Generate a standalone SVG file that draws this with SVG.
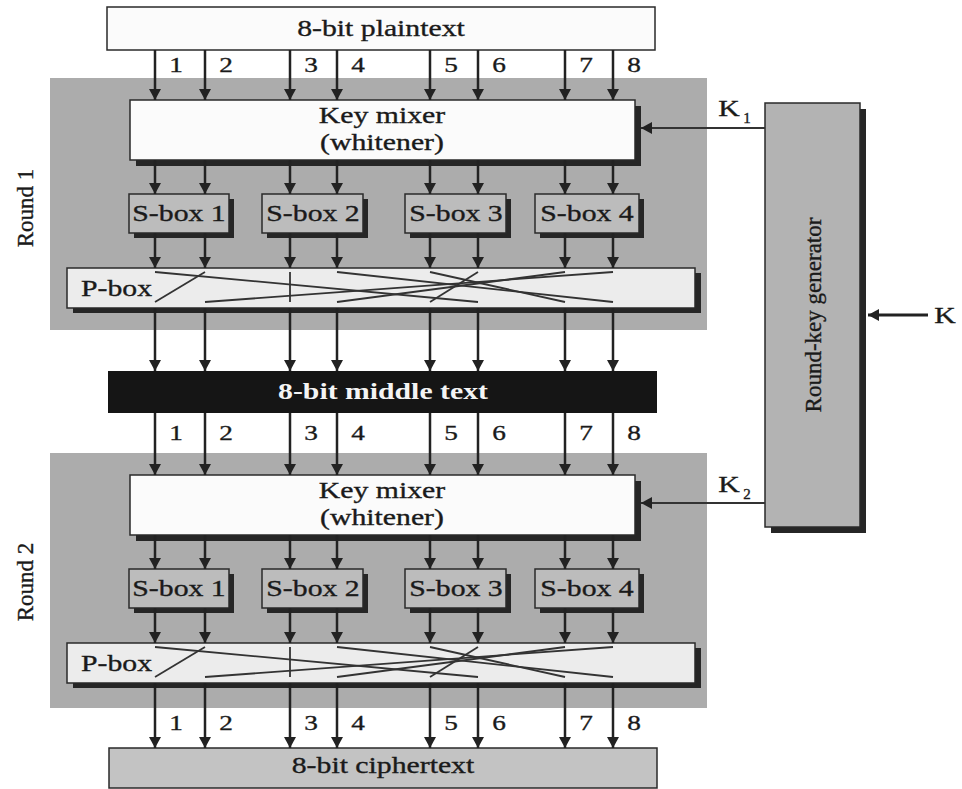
<svg xmlns="http://www.w3.org/2000/svg" width="962" height="789" viewBox="0 0 962 789">
<style>
.bg{fill:#ffffff}
.round{fill:#acacac}
.box{stroke:#2a2a2a;stroke-width:1.5}
.shadow{fill:#262626}
.white{fill:#fbfbfb}
.sbox{fill:#bcbcbc}
.pbox{fill:#ececec}
.gen{fill:#b3b3b3}
.cipher{fill:#c3c3c3}
.mid{fill:#151515}
.t{font-family:"Liberation Serif","Times New Roman",serif;fill:#1a1a1a;stroke:#1a1a1a;stroke-width:0.35}
.lbl{font-size:24px;text-anchor:middle}
.num{font-size:22px;text-anchor:middle}
.sub{font-size:15px;text-anchor:middle}
.rot{font-size:23px;text-anchor:middle}
.midt{font-size:24px;font-weight:bold;text-anchor:middle;fill:#f4f4f4;stroke:none}
.wire line{stroke:#222;stroke-width:2.5;fill:none;marker-end:url(#ah)}
.kwire{stroke:#333;stroke-width:2;fill:none;marker-end:url(#ah)}
.perm{stroke:#333;stroke-width:1.8;fill:none}
</style>
<defs>
<marker id="ah" markerUnits="userSpaceOnUse" markerWidth="14" markerHeight="14" refX="11" refY="6" orient="auto">
<path d="M0,0 L11,6 L0,12 z" fill="#222"/>
</marker>
</defs>
<rect class="bg" x="0" y="0" width="962" height="789"/>

<g id="round1-region">
<rect class="round" x="50" y="78" width="657" height="252"/>
<text class="t rot" transform="translate(33 208) rotate(-90)">Round 1</text>
</g>
<g id="round2-region">
<rect class="round" x="50" y="453" width="657" height="255"/>
<text class="t rot" transform="translate(33 582) rotate(-90)">Round 2</text>
</g>

<g id="plaintext">
<rect class="box white" x="107" y="7" width="548" height="43"/>
<text class="t lbl" transform="translate(381 36) scale(1.24 1)">8-bit plaintext</text>
</g>

<g id="keymixer1">
<rect class="shadow" x="136" y="106" width="505" height="60"/>
<rect class="box white" x="130" y="100" width="505" height="60"/>
<text class="t lbl" transform="translate(382 123) scale(1.24 1)">Key mixer</text>
<text class="t lbl" transform="translate(382 150) scale(1.24 1)">(whitener)</text>
</g>

<g id="sbox1-1">
<rect class="shadow" x="134" y="199" width="100" height="39"/>
<rect class="box sbox" x="129" y="194" width="100" height="39"/>
<text class="t lbl" transform="translate(179 221) scale(1.24 1)">S-box 1</text>
</g>
<g id="sbox1-2">
<rect class="shadow" x="267" y="199" width="101" height="39"/>
<rect class="box sbox" x="262" y="194" width="101" height="39"/>
<text class="t lbl" transform="translate(313 221) scale(1.24 1)">S-box 2</text>
</g>
<g id="sbox1-3">
<rect class="shadow" x="410" y="199" width="101" height="39"/>
<rect class="box sbox" x="405" y="194" width="101" height="39"/>
<text class="t lbl" transform="translate(456 221) scale(1.24 1)">S-box 3</text>
</g>
<g id="sbox1-4">
<rect class="shadow" x="540" y="199" width="104" height="39"/>
<rect class="box sbox" x="535" y="194" width="104" height="39"/>
<text class="t lbl" transform="translate(587 221) scale(1.24 1)">S-box 4</text>
</g>

<g id="pbox1">
<rect class="shadow" x="73" y="273" width="628" height="40"/>
<rect class="box pbox" x="67" y="268" width="628" height="40"/>
<text class="t lbl" style="text-anchor:start" transform="translate(81 296) scale(1.24 1)">P-box</text>
<g class="perm">
<line x1="155" y1="272" x2="478" y2="302"/>
<line x1="205" y1="272" x2="155" y2="302"/>
<line x1="290" y1="272" x2="290" y2="302"/>
<line x1="337" y1="272" x2="613" y2="302"/>
<line x1="430" y1="272" x2="565" y2="302"/>
<line x1="478" y1="272" x2="430" y2="302"/>
<line x1="565" y1="272" x2="337" y2="302"/>
<line x1="613" y1="272" x2="205" y2="302"/>
</g>
</g>

<g id="middletext">
<rect class="mid" x="108" y="371" width="549" height="42"/>
<text class="t midt" transform="translate(383 399) scale(1.24 1)">8-bit middle text</text>
</g>

<g id="keymixer2">
<rect class="shadow" x="136" y="481" width="505" height="60"/>
<rect class="box white" x="130" y="475" width="505" height="60"/>
<text class="t lbl" transform="translate(382 498) scale(1.24 1)">Key mixer</text>
<text class="t lbl" transform="translate(382 525) scale(1.24 1)">(whitener)</text>
</g>

<g id="sbox2-1">
<rect class="shadow" x="134" y="574" width="100" height="39"/>
<rect class="box sbox" x="129" y="569" width="100" height="39"/>
<text class="t lbl" transform="translate(179 596) scale(1.24 1)">S-box 1</text>
</g>
<g id="sbox2-2">
<rect class="shadow" x="267" y="574" width="101" height="39"/>
<rect class="box sbox" x="262" y="569" width="101" height="39"/>
<text class="t lbl" transform="translate(313 596) scale(1.24 1)">S-box 2</text>
</g>
<g id="sbox2-3">
<rect class="shadow" x="410" y="574" width="101" height="39"/>
<rect class="box sbox" x="405" y="569" width="101" height="39"/>
<text class="t lbl" transform="translate(456 596) scale(1.24 1)">S-box 3</text>
</g>
<g id="sbox2-4">
<rect class="shadow" x="540" y="574" width="104" height="39"/>
<rect class="box sbox" x="535" y="569" width="104" height="39"/>
<text class="t lbl" transform="translate(587 596) scale(1.24 1)">S-box 4</text>
</g>

<g id="pbox2">
<rect class="shadow" x="73" y="648" width="628" height="40"/>
<rect class="box pbox" x="67" y="643" width="628" height="40"/>
<text class="t lbl" style="text-anchor:start" transform="translate(81 671) scale(1.24 1)">P-box</text>
<g class="perm">
<line x1="155" y1="647" x2="478" y2="677"/>
<line x1="205" y1="647" x2="155" y2="677"/>
<line x1="290" y1="647" x2="290" y2="677"/>
<line x1="337" y1="647" x2="613" y2="677"/>
<line x1="430" y1="647" x2="565" y2="677"/>
<line x1="478" y1="647" x2="430" y2="677"/>
<line x1="565" y1="647" x2="337" y2="677"/>
<line x1="613" y1="647" x2="205" y2="677"/>
</g>
</g>

<g id="ciphertext">
<rect class="box cipher" x="109" y="748" width="548" height="40"/>
<text class="t lbl" transform="translate(383 773) scale(1.24 1)">8-bit ciphertext</text>
</g>

<g id="roundkeygen">
<rect class="shadow" x="771" y="109" width="95" height="424"/>
<rect class="box gen" x="765" y="103" width="95" height="424"/>
<text class="t rot" transform="translate(821 315) rotate(-90)">Round-key generator</text>
</g>

<g id="connectors">
<g class="wire">
<line x1="155" y1="50" x2="155" y2="100"/><line x1="205" y1="50" x2="205" y2="100"/><line x1="290" y1="50" x2="290" y2="100"/><line x1="337" y1="50" x2="337" y2="100"/><line x1="430" y1="50" x2="430" y2="100"/><line x1="478" y1="50" x2="478" y2="100"/><line x1="565" y1="50" x2="565" y2="100"/><line x1="613" y1="50" x2="613" y2="100"/>
<line x1="155" y1="160" x2="155" y2="194"/><line x1="205" y1="160" x2="205" y2="194"/><line x1="290" y1="160" x2="290" y2="194"/><line x1="337" y1="160" x2="337" y2="194"/><line x1="430" y1="160" x2="430" y2="194"/><line x1="478" y1="160" x2="478" y2="194"/><line x1="565" y1="160" x2="565" y2="194"/><line x1="613" y1="160" x2="613" y2="194"/>
<line x1="155" y1="233" x2="155" y2="268"/><line x1="205" y1="233" x2="205" y2="268"/><line x1="290" y1="233" x2="290" y2="268"/><line x1="337" y1="233" x2="337" y2="268"/><line x1="430" y1="233" x2="430" y2="268"/><line x1="478" y1="233" x2="478" y2="268"/><line x1="565" y1="233" x2="565" y2="268"/><line x1="613" y1="233" x2="613" y2="268"/>
<line x1="155" y1="308" x2="155" y2="371"/><line x1="205" y1="308" x2="205" y2="371"/><line x1="290" y1="308" x2="290" y2="371"/><line x1="337" y1="308" x2="337" y2="371"/><line x1="430" y1="308" x2="430" y2="371"/><line x1="478" y1="308" x2="478" y2="371"/><line x1="565" y1="308" x2="565" y2="371"/><line x1="613" y1="308" x2="613" y2="371"/>
<line x1="155" y1="413" x2="155" y2="475"/><line x1="205" y1="413" x2="205" y2="475"/><line x1="290" y1="413" x2="290" y2="475"/><line x1="337" y1="413" x2="337" y2="475"/><line x1="430" y1="413" x2="430" y2="475"/><line x1="478" y1="413" x2="478" y2="475"/><line x1="565" y1="413" x2="565" y2="475"/><line x1="613" y1="413" x2="613" y2="475"/>
<line x1="155" y1="535" x2="155" y2="569"/><line x1="205" y1="535" x2="205" y2="569"/><line x1="290" y1="535" x2="290" y2="569"/><line x1="337" y1="535" x2="337" y2="569"/><line x1="430" y1="535" x2="430" y2="569"/><line x1="478" y1="535" x2="478" y2="569"/><line x1="565" y1="535" x2="565" y2="569"/><line x1="613" y1="535" x2="613" y2="569"/>
<line x1="155" y1="608" x2="155" y2="643"/><line x1="205" y1="608" x2="205" y2="643"/><line x1="290" y1="608" x2="290" y2="643"/><line x1="337" y1="608" x2="337" y2="643"/><line x1="430" y1="608" x2="430" y2="643"/><line x1="478" y1="608" x2="478" y2="643"/><line x1="565" y1="608" x2="565" y2="643"/><line x1="613" y1="608" x2="613" y2="643"/>
<line x1="155" y1="683" x2="155" y2="748"/><line x1="205" y1="683" x2="205" y2="748"/><line x1="290" y1="683" x2="290" y2="748"/><line x1="337" y1="683" x2="337" y2="748"/><line x1="430" y1="683" x2="430" y2="748"/><line x1="478" y1="683" x2="478" y2="748"/><line x1="565" y1="683" x2="565" y2="748"/><line x1="613" y1="683" x2="613" y2="748"/>
<line style="stroke-width:3" x1="928" y1="315" x2="868" y2="315"/>
</g>
<line class="kwire" x1="765" y1="128" x2="641" y2="128"/>
<line class="kwire" x1="765" y1="503" x2="641" y2="503"/>
</g>

<g id="labels">
<g class="t num">
<text transform="translate(176 72) scale(1.24 1)">1</text>
<text transform="translate(226 72) scale(1.24 1)">2</text>
<text transform="translate(311 72) scale(1.24 1)">3</text>
<text transform="translate(358 72) scale(1.24 1)">4</text>
<text transform="translate(451 72) scale(1.24 1)">5</text>
<text transform="translate(499 72) scale(1.24 1)">6</text>
<text transform="translate(586 72) scale(1.24 1)">7</text>
<text transform="translate(634 72) scale(1.24 1)">8</text>
<text transform="translate(176 440) scale(1.24 1)">1</text>
<text transform="translate(226 440) scale(1.24 1)">2</text>
<text transform="translate(311 440) scale(1.24 1)">3</text>
<text transform="translate(358 440) scale(1.24 1)">4</text>
<text transform="translate(451 440) scale(1.24 1)">5</text>
<text transform="translate(499 440) scale(1.24 1)">6</text>
<text transform="translate(586 440) scale(1.24 1)">7</text>
<text transform="translate(634 440) scale(1.24 1)">8</text>
<text transform="translate(176 730) scale(1.24 1)">1</text>
<text transform="translate(226 730) scale(1.24 1)">2</text>
<text transform="translate(311 730) scale(1.24 1)">3</text>
<text transform="translate(358 730) scale(1.24 1)">4</text>
<text transform="translate(451 730) scale(1.24 1)">5</text>
<text transform="translate(499 730) scale(1.24 1)">6</text>
<text transform="translate(586 730) scale(1.24 1)">7</text>
<text transform="translate(634 730) scale(1.24 1)">8</text>
</g>
<text class="t lbl" transform="translate(729 116) scale(1.24 1)">K</text>
<text class="t sub" x="747" y="123">1</text>
<text class="t lbl" transform="translate(729 492) scale(1.24 1)">K</text>
<text class="t sub" x="747" y="499">2</text>
<text class="t lbl" transform="translate(945 323) scale(1.24 1)">K</text>
</g>
</svg>
